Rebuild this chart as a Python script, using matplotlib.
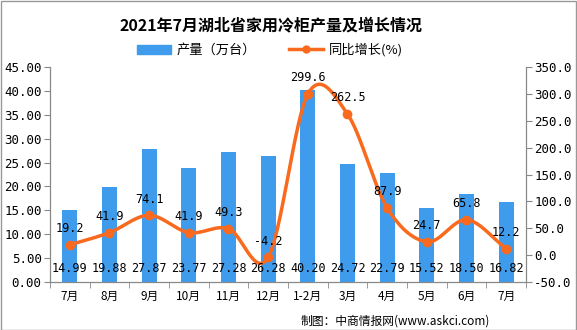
import numpy as np
import matplotlib
matplotlib.use("Agg")
import matplotlib.pyplot as plt
from matplotlib.patches import Rectangle
from matplotlib.lines import Line2D

plt.rcParams['font.family'] = ['Noto Sans CJK SC', 'DejaVu Sans']

categories = ["7月", "8月", "9月", "10月", "11月", "12月", "1-2月", "3月", "4月", "5月", "6月", "7月"]
output = [14.99, 19.88, 27.87, 23.77, 27.28, 26.28, 40.20, 24.72, 22.79, 15.52, 18.50, 16.82]
growth = [19.2, 41.9, 74.1, 41.9, 49.3, -4.2, 299.6, 262.5, 87.9, 24.7, 65.8, 12.2]
left_ticks = [0, 5, 10, 15, 20, 25, 30, 35, 40, 45]
right_ticks = [-50, 0, 50, 100, 150, 200, 250, 300, 350]

bar_color = "#3F9CEC"
line_color = "#F96A1E"
axis_color = "#888888"

def catmull_rom(xs, ys, n=30):
    xs = np.asarray(xs, float); ys = np.asarray(ys, float)
    px = np.concatenate([[2*xs[0]-xs[1]], xs, [2*xs[-1]-xs[-2]]])
    py = np.concatenate([[2*ys[0]-ys[1]], ys, [2*ys[-1]-ys[-2]]])
    ox, oy = [], []
    for i in range(1, len(px)-2):
        t = np.linspace(0, 1, n, endpoint=False)
        f = lambda a0, a1, a2, a3: 0.5*((2*a1) + (-a0+a2)*t + (2*a0-5*a1+4*a2-a3)*t**2 + (-a0+3*a1-3*a2+a3)*t**3)
        ox.append(f(px[i-1], px[i], px[i+1], px[i+2])); oy.append(f(py[i-1], py[i], py[i+1], py[i+2]))
    ox.append([xs[-1]]); oy.append([ys[-1]])
    return np.concatenate(ox), np.concatenate(oy)

fig = plt.figure(figsize=(5.77, 3.30), dpi=100)
fig.patches.append(Rectangle((0.5/577, 0.5/330), 1-1.5/577, 1-1.5/330, transform=fig.transFigure,
                             fill=False, edgecolor="#999999", linewidth=1))
ax = fig.add_axes([50/577, 48/330, 476/577, 215/330])
ax2 = ax.twinx()

x = np.arange(len(categories))
ax.bar(x, output, width=0.38, color=bar_color, zorder=2)
ax.set_ylim(0, 45)
ax.set_xlim(-0.5, len(categories)-0.5)
ax.set_yticks(left_ticks)
ax.set_yticklabels([f"{v:.2f}" for v in left_ticks], fontfamily="DejaVu Sans Mono", fontsize=9)
ax.set_xticks(x)
ax.set_xticklabels(categories, fontsize=8.5)
ax.tick_params(axis='x', length=0, pad=6)
ax.set_xticks(np.arange(-0.5, len(categories)), minor=True)
ax.tick_params(axis='x', which='minor', length=4, color=axis_color)
ax.tick_params(axis='y', length=4, color=axis_color, pad=2)

sx, sy = catmull_rom(x, growth)
ax2.plot(sx, sy, color=line_color, linewidth=2.5, zorder=3)
ax2.plot(x, growth, 'o', color=line_color, markersize=6, zorder=4)
ax2.set_ylim(-50, 350)
ax2.set_yticks(right_ticks)
ax2.set_yticklabels([f"{v:.1f}" for v in right_ticks], fontfamily="DejaVu Sans Mono", fontsize=9)
ax2.tick_params(axis='y', length=4, color=axis_color, pad=2)
for xi, v in zip(x, growth):
    ax2.text(xi, v + 30, f"{v}", ha='center', va='center', fontsize=8.5,
             fontfamily="DejaVu Sans Mono", zorder=5)
# bar value labels (drawn on top axes so they sit above the line)
for xi, v in zip(x, output):
    ax2.text(xi, -50 + 2.9 * 400 / 45, f"{v:.2f}", ha='center', va='center', fontsize=8.5,
             fontfamily="DejaVu Sans Mono", zorder=5)

for a in (ax, ax2):
    a.spines['top'].set_visible(False)
    for s in ('left', 'right', 'bottom'):
        a.spines[s].set_color(axis_color)

fig.text(271/577, 1-25/330, "2021年7月湖北省家用冷柜产量及增长情况", ha='center', va='center',
         fontsize=11.5, fontweight='bold')

handles = [Rectangle((0, 0), 1, 1, color=bar_color),
           Line2D([0], [0], color=line_color, linewidth=2.5, marker='o', markersize=5)]
fig.legend(handles, ["产量（万台）", "同比增长(%)"], loc='center', bbox_to_anchor=(270/577, 1-50/330),
           ncol=2, frameon=False, fontsize=9.5, handlelength=2.6, columnspacing=2.5, handletextpad=0.4)

fig.text(490/577, 1-321/330, "制图：中商情报网(www.askci.com)", ha='right', va='center', fontsize=8.5)

fig.savefig("out.png", dpi=100)
